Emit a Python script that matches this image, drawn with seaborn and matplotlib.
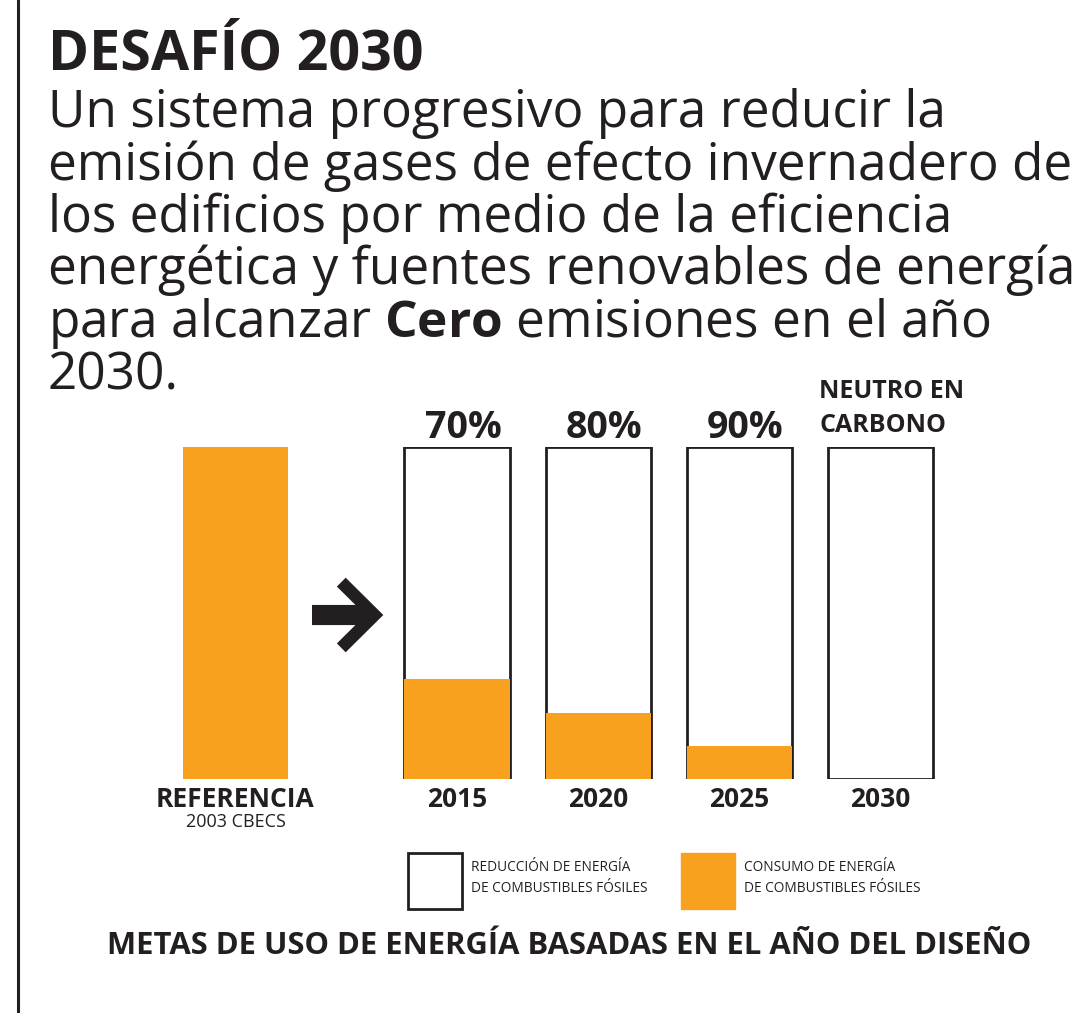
import matplotlib
matplotlib.use('Agg')
import matplotlib.pyplot as plt
import seaborn as sns
import pandas as pd
from matplotlib.lines import Line2D
from matplotlib.patches import Patch

# Datos
categorias = ['REFERENCIA', '2015', '2020', '2025', '2030']
consumo = [100, 30, 20, 10, 0]          # consumo de energía fósil (% de la referencia)
total = [100, 100, 100, 100, 100]
etiquetas_pct = ['70%', '80%', '90%']
etiqueta_neutro = 'NEUTRO EN\nCARBONO'
subtitulo_ref = '2003 CBECS'
leyenda = ['REDUCCIÓN DE ENERGÍA\nDE COMBUSTIBLES FÓSILES',
           'CONSUMO DE ENERGÍA\nDE COMBUSTIBLES FÓSILES']
titulo = 'DESAFÍO 2030'
lineas = ['Un sistema progresivo para reducir la',
          'emisión de gases de efecto invernadero de',
          'los edificios por medio de la eficiencia',
          'energética y fuentes renovables de energía',
          r'para alcanzar $\mathbf{Cero}$ emisiones en el año',
          '2030.']
pie = 'METAS DE USO DE ENERGÍA BASADAS EN EL AÑO DEL DISEÑO'

# posiciones horizontales (la referencia está separada del resto)
posiciones = [0, 1.57, 2.57, 3.57, 4.57]

naranja = '#F7A11F'
oscuro = '#231F20'

sns.set_theme(style='white')
plt.rcParams['font.family'] = ['Open Sans', 'DejaVu Sans']
plt.rcParams['mathtext.fontset'] = 'custom'
plt.rcParams['mathtext.rm'] = 'Open Sans'
plt.rcParams['mathtext.bf'] = 'Open Sans:bold'
plt.rcParams['text.color'] = oscuro

df = pd.DataFrame({'pos': posiciones, 'categoria': categorias,
                   'consumo': consumo, 'total': total})

W, H = 1080, 1013
fig = plt.figure(figsize=(W / 100, H / 100), dpi=100)
ax = fig.add_axes([150.8 / W, 234 / H, 814.1 / W, 332 / H])

# barras vacías (reducción) y barras naranjas (consumo)
sns.barplot(data=df.iloc[1:], x='pos', y='total', native_scale=True,
            color='white', edgecolor=oscuro, linewidth=2, width=0.745,
            saturation=1, ax=ax)
sns.barplot(data=df, x='pos', y='consumo', native_scale=True,
            color=naranja, linewidth=0, width=0.745, saturation=1, ax=ax)

ax.set_xlim(-0.6, 5.17)
ax.set_ylim(0, 100)
ax.set_xlabel('')
ax.set_ylabel('')
ax.set_yticks([])
ax.set_xticks(posiciones)
ax.set_xticklabels(categorias, fontsize=19, fontweight='bold', color=oscuro)
ax.tick_params(axis='x', length=0, pad=5)
sns.despine(ax=ax, left=True, bottom=True)

ax.annotate(subtitulo_ref, xy=(posiciones[0], 0), xytext=(0, -31),
            textcoords='offset points', ha='center', va='center', fontsize=13)

for p, lab in zip(posiciones[1:4], etiquetas_pct):
    ax.annotate(lab, xy=(p, 100), xytext=(4.5, 6.5), textcoords='offset points',
                ha='center', va='baseline', fontsize=27, fontweight='bold')
ax.annotate(etiqueta_neutro, xy=(posiciones[4] - 0.3725, 100), xytext=(-6, 6.5),
            textcoords='offset points', ha='left', va='bottom', fontsize=18,
            fontweight='bold', linespacing=1.45)

# flecha entre la referencia y 2015
ax.plot([0.54, 0.95], [49.4, 49.4], color=oscuro, lw=14.5, solid_capstyle='butt')
ax.plot([0.75, 0.985, 0.75], [59.3, 49.4, 39.5], color=oscuro, lw=9,
        solid_capstyle='butt', solid_joinstyle='miter')

# textos superiores
fig.text(48 / W, 1 - 70 / H, titulo, fontsize=40, fontweight='bold', va='baseline')
for i, linea in enumerate(lineas):
    fig.text(48 / W, 1 - (127 + 52.5 * i) / H, linea, fontsize=37, va='baseline')

# leyenda
handles = [Patch(facecolor='white', edgecolor=oscuro, linewidth=2),
           Patch(facecolor=naranja, edgecolor=naranja)]
leg = fig.legend(handles, leyenda, loc='upper left',
                 bbox_to_anchor=(408 / W, 1 - 853 / H),
                 ncol=2, frameon=False, fontsize=9.8, handlelength=3.98,
                 handleheight=5.94, handletextpad=0.65, columnspacing=2.45,
                 borderpad=0, borderaxespad=0)
for t in leg.get_texts():
    t.set_linespacing(1.55)

fig.text(569 / W, 1 - 954 / H, pie, fontsize=22.3, fontweight='bold',
         ha='center', va='baseline')

# línea vertical del borde izquierdo
fig.add_artist(Line2D([18 / W, 18 / W], [0, 1], color=oscuro, lw=2.2))

fig.savefig('out.png', dpi=100, facecolor='white')
